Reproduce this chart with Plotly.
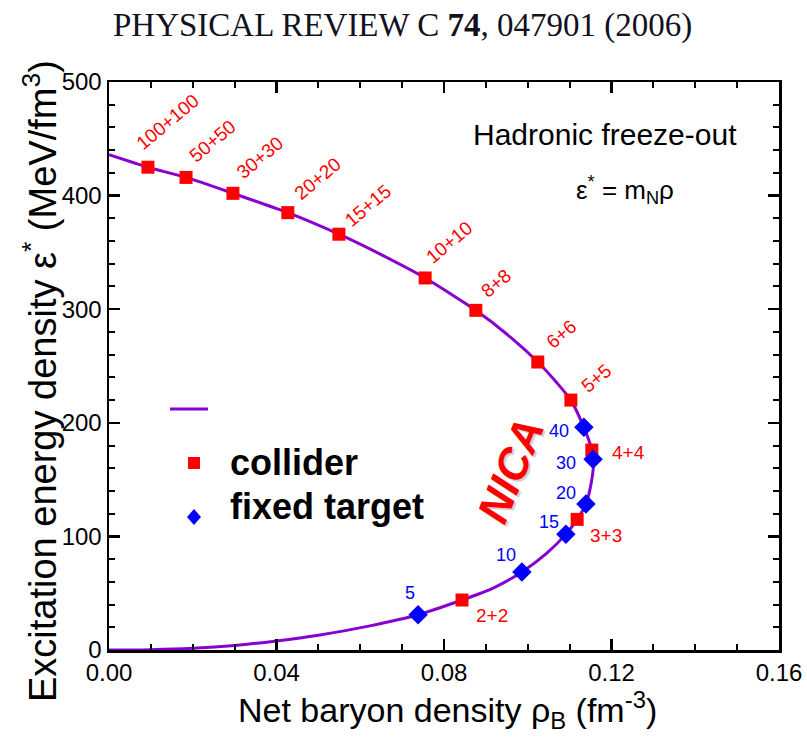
import plotly.graph_objects as go

# ---------------- data ----------------
collider_labels = ["100+100", "50+50", "30+30", "20+20", "15+15", "10+10",
                   "8+8", "6+6", "5+5", "4+4", "3+3", "2+2"]
collider_rho = [0.0093, 0.0184, 0.0296, 0.0427, 0.0549, 0.0755,
                0.0876, 0.1024, 0.1103, 0.1153, 0.1118, 0.0843]
collider_eps = [425, 416, 402, 385, 366, 327.5, 299, 253.5, 220, 176, 115, 44]

fixed_labels = ["5", "10", "15", "20", "30", "40"]
fixed_rho = [0.0738, 0.0986, 0.1091, 0.1139, 0.1156, 0.1134]
fixed_eps = [31, 68.7, 102, 128.5, 168, 196]

curve_rho = [0.0, 0.0093, 0.0184, 0.0296, 0.0427, 0.0549, 0.065, 0.0755, 0.0876,
             0.096, 0.1024, 0.107, 0.1103, 0.1134, 0.1150, 0.1157, 0.1152, 0.1139,
             0.1118, 0.1091, 0.1045, 0.0986, 0.092, 0.0843, 0.0738, 0.062, 0.050,
             0.040, 0.030, 0.020, 0.010, 0.0]
curve_eps = [436, 425, 416, 402, 385, 366, 348, 327.5, 299,
             275, 253.5, 235, 220, 196, 180, 165, 148, 128.5,
             115, 102, 85, 68.7, 55, 44, 31, 21, 13,
             8, 4, 1.5, 0.3, 0]

x_tickvals = [0.0, 0.04, 0.08, 0.12, 0.16]
x_ticktext = ["0.00", "0.04", "0.08", "0.12", "0.16"]
y_tickvals = [0, 100, 200, 300, 400, 500]
y_ticktext = ["0", "100", "200", "300", "400", "500"]

# ---------------- styles / label placement ----------------
PURPLE = "#8800D0"
RED = "#FF0000"
BLUE = "#0000FF"
SANS = "Liberation Sans, Arial, Helvetica, sans-serif"
SERIF = "Liberation Serif, Times New Roman, serif"

collider_shift = [(20, 46), (26, 36), (27, 36), (30, 34), (29, 29), (24, 35),
                  (20, 27), (23, 28), (25, 22), (37, -2), (29, -16), (30, -15)]
collider_angle = [-40] * 9 + [0, 0, 0]
fixed_shift = [(-8, 22), (-16, 17), (-17, 12), (-20, 11), (-27, -4), (-25, -4)]

# plot area wanted at screen x 109-779, y 82-650 (page body margin removed)
W, H = 807, 751
L, T = 109, 82
PW, PH = 670, 568
R, B = W - L - PW, H - T - PH
SX0, SY1 = L, T + PH


def px(x):
    return (x - SX0) / PW


def py(y):
    return (SY1 - y) / PH


def note(x, y, text, size, color="black", angle=0, xa="center", family=SANS):
    return dict(xref="paper", yref="paper", x=px(x), y=py(y), text=text,
                showarrow=False, xanchor=xa, yanchor="middle", textangle=angle,
                font=dict(family=family, size=size, color=color))


fig = go.Figure()
fig.add_trace(go.Scatter(x=curve_rho, y=curve_eps, mode="lines",
                         line=dict(color=PURPLE, width=3, shape="spline", smoothing=0.6),
                         showlegend=False, hoverinfo="skip"))
fig.add_trace(go.Scatter(x=collider_rho, y=collider_eps, mode="markers",
                         marker=dict(symbol="square", size=13, color=RED),
                         showlegend=False))
fig.add_trace(go.Scatter(x=fixed_rho, y=fixed_eps, mode="markers",
                         marker=dict(symbol="diamond", size=15, color=BLUE),
                         showlegend=False))

ann = []
for lab, xr, ye, (dx, dy), ang in zip(collider_labels, collider_rho, collider_eps,
                                      collider_shift, collider_angle):
    ann.append(dict(x=xr, y=ye, xref="x", yref="y", text=lab, showarrow=False,
                    xanchor="center", yanchor="middle",
                    xshift=dx, yshift=dy, textangle=ang,
                    font=dict(family=SANS, size=19, color=RED)))
for lab, xr, ye, (dx, dy) in zip(fixed_labels, fixed_rho, fixed_eps, fixed_shift):
    ann.append(dict(x=xr, y=ye, xref="x", yref="y", text=lab, showarrow=False,
                    xanchor="center", yanchor="middle",
                    xshift=dx, yshift=dy,
                    font=dict(family=SANS, size=18, color=BLUE)))

ann.append(note(402, 25, "PHYSICAL REVIEW C <b>74</b>, 047901 (2006)", 33,
                color="#111122", family=SERIF))
ann.append(note(605, 134, "Hadronic freeze-out", 30))
ann.append(note(625, 190, "ε<sup>*</sup> = m<sub>N</sub>ρ", 26))
ann.append(note(512, 472, "<b><i>NICA</i></b>", 44, color="rgba(120,120,120,0.35)", angle=-68))
ann.append(note(510, 470, "<b><i>NICA</i></b>", 44, color=RED, angle=-68))
ann.append(note(228, 462, "<b>collider</b>", 36, xa="left"))
ann.append(note(228, 507, "<b>fixed target</b>", 36, xa="left"))
ann.append(note(448, 710, "Net baryon density ρ<sub>B</sub> (fm<sup>-3</sup>)", 34))
ann.append(note(40, 381, "Excitation energy density ε<sup>*</sup> (MeV/fm<sup>3</sup>)", 38,
                angle=-90))

shapes = [
    dict(type="line", xref="paper", yref="paper", x0=px(170), x1=px(208),
         y0=py(409), y1=py(409), line=dict(color=PURPLE, width=3)),
    dict(type="rect", xref="paper", yref="paper", x0=px(188), x1=px(200),
         y0=py(469), y1=py(457), line=dict(width=0), fillcolor=RED),
    dict(type="path", xref="paper", yref="paper",
         path=f"M {px(194)},{py(509)} L {px(201)},{py(517)} L {px(194)},{py(525)} L {px(187)},{py(517)} Z",
         line=dict(width=0), fillcolor=BLUE),
]

axis_common = dict(showline=True, linewidth=2.5, linecolor="black", mirror="ticks",
                   ticks="inside", ticklen=11, tickwidth=2.5, tickcolor="black",
                   showgrid=False, zeroline=False, automargin=False,
                   tickfont=dict(family=SANS, size=24, color="black"))

fig.update_layout(
    width=W, height=H,
    margin=dict(l=L, r=R, t=T, b=B),
    paper_bgcolor="white", plot_bgcolor="white",
    xaxis=dict(range=[0, 0.16], tickvals=x_tickvals, ticktext=x_ticktext,
               minor=dict(ticks="inside", ticklen=6, tickwidth=2, tickcolor="black", dtick=0.01, tick0=0),
               **axis_common),
    yaxis=dict(range=[0, 500], tickvals=y_tickvals, ticktext=y_ticktext,
               minor=dict(ticks="inside", ticklen=6, tickwidth=2, tickcolor="black", dtick=20, tick0=0),
               **axis_common),
    annotations=ann, shapes=shapes, showlegend=False,
)

fig.write_html("out.html", config={"displayModeBar": False, "staticPlot": True},
               post_script="document.body.style.margin='0';document.body.style.overflow='hidden';")
